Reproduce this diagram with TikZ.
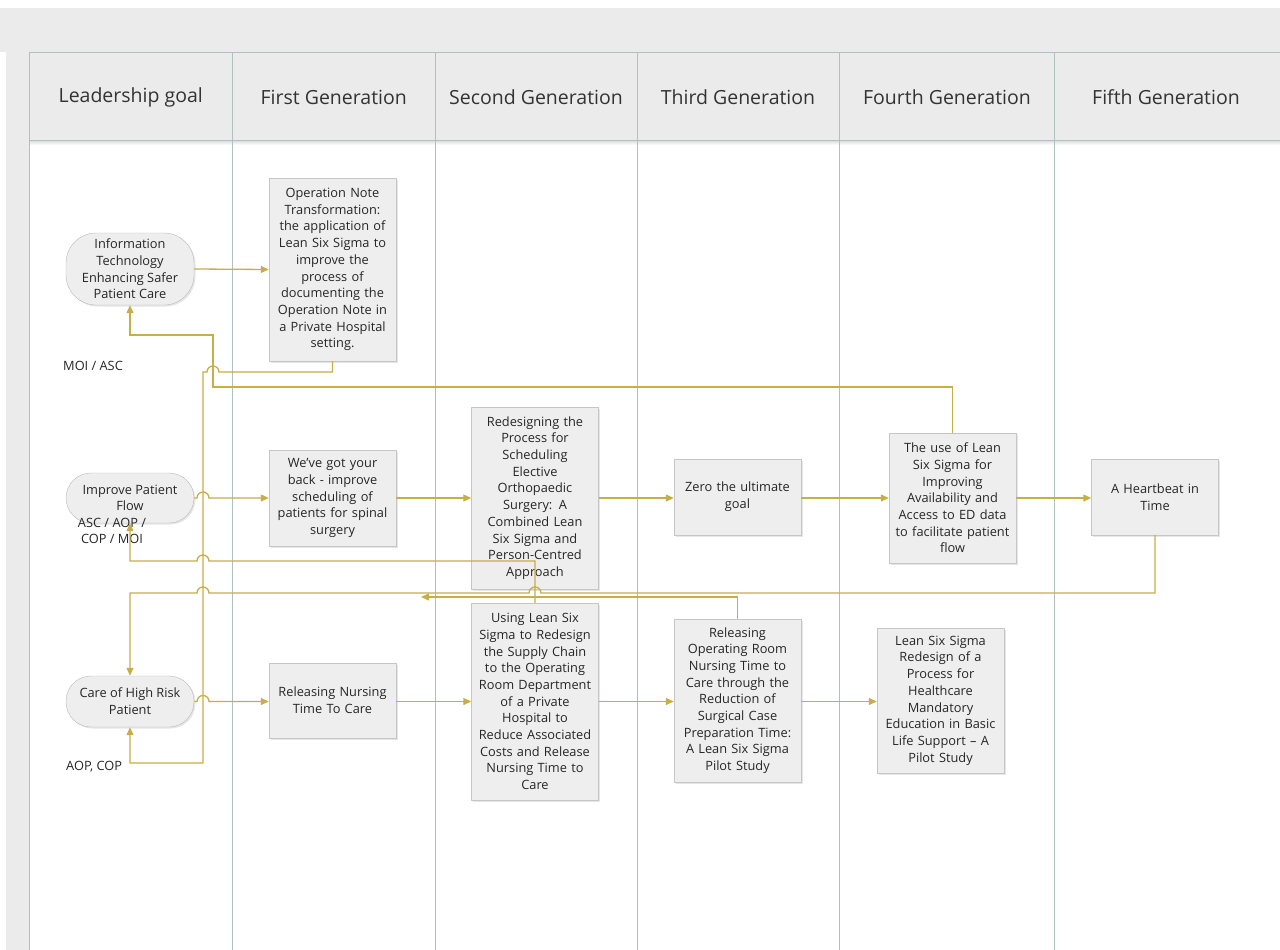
\documentclass[tikz,border=0pt]{standalone}
\usepackage{fontspec}
\setmainfont{Open Sans}
\setsansfont{Open Sans}
\usetikzlibrary{arrows.meta, positioning, shadows}

\definecolor{flowgold}{HTML}{C8AE46}
\definecolor{laneline}{HTML}{AFC0BE}
\definecolor{bandgray}{HTML}{EBEBEB}
\definecolor{cardfill}{HTML}{EEEEEE}
\definecolor{cardline}{HTML}{C6C6C6}

\begin{document}
\begin{tikzpicture}[
    x=1pt, y=1pt,
    every node/.append style = {font=\sffamily},
    head/.style = {font=\sffamily\fontsize{19.5}{23}\selectfont, text=black!80},
    goal/.style = {draw=gray!55, fill=cardfill, rounded corners=25pt,
      minimum width=128pt, align=center, inner sep=1pt,
      font=\sffamily\fontsize{12.8}{16.7}\selectfont, text=black!85,
      drop shadow={shadow xshift=1.5pt, shadow yshift=-1.5pt, opacity=0.2}},
    card/.style = {draw=cardline, fill=cardfill, minimum width=127pt,
      text width=125pt, align=center, inner sep=1pt,
      font=\sffamily\fontsize{12.8}{16.7}\selectfont, text=black!85,
      drop shadow={shadow xshift=1.5pt, shadow yshift=-1.5pt, opacity=0.2}},
    tag/.style = {font=\sffamily\fontsize{12.8}{16.7}\selectfont,
      text=black!85, inner sep=0pt},
    goldarrow/.style = {draw=flowgold, line width=1.3pt,
      -{Triangle[length=8pt, width=7pt]}},
    lane/.style = {draw=laneline, line width=0.8pt}
  ]
 \useasboundingbox (0,0) rectangle (1280,-950);

 % swimlane frame
 \fill[bandgray] (0,-8) rectangle (1280,-52);
 \fill[bandgray] (29,-52) rectangle (1280,-140);
 \fill[bandgray] (6,-52) rectangle (29,-950);
 \shade[top color=gray!30, bottom color=white] (29,-140) rectangle (1280,-145);
 \draw[lane] (29,-52) -- (1280,-52);
 \draw[lane] (29,-140) -- (1280,-140);
 \foreach \x in {29,232.5,435,637,839.5,1054.5} {
   \draw[lane] (\x,-52) -- (\x,-950);
 }
 \foreach \x/\t [count=\i] in {130.75/Leadership goal, 333.75/First Generation,
     536/Second Generation, 738/Third Generation, 947/Fourth Generation,
     1166/Fifth Generation} {
   \node[head] (hd\i) at (\x,-97) {\t};
 }

 % leadership goals
 \node[goal, rounded corners=30pt, minimum height=72pt] (itech) at (130,-269)
   {Information\\Technology\\Enhancing Safer\\Patient Care};
 \node[goal, minimum height=50pt] (pflow) at (130,-498)
   {Improve Patient\\Flow};
 \node[goal, minimum height=51pt] (risk) at (130,-701.5)
   {Care of High Risk\\Patient};

 \node[tag, anchor=west] (moi) at (63,-366) {MOI / ASC};
 \node[tag, align=center] (ascaop) at (112,-531) {ASC / AOP /\\COP / MOI};
 \node[tag, anchor=west] (aopcop) at (66,-767) {AOP, COP};

 % projects
 \node[card, minimum height=183pt] (opnote) at (332.5,-269.5)
   {Operation Note\\Transformation:\\the application of\\Lean Six Sigma to\\improve the\\process of\\documenting the\\Operation Note in\\a Private Hospital\\setting.};
 \node[card, minimum height=96pt] (back) at (332.5,-498)
   {We've got your\\back - improve\\scheduling of\\patients for spinal\\surgery};
 \node[card, minimum height=182pt] (redesign) at (535,-498)
   {Redesigning the\\Process for\\Scheduling\\Elective\\Orthopaedic\\Surgery: A\\Combined Lean\\Six Sigma and\\Person-Centred\\Approach};
 \node[card, minimum height=76pt] (zero) at (737.5,-497)
   {Zero the ultimate\\goal};
 \node[card, minimum height=130pt] (edata) at (952.5,-498)
   {The use of Lean\\Six Sigma for\\Improving\\Availability and\\Access to ED data\\to facilitate patient\\flow};
 \node[card, minimum height=76pt] (heart) at (1155,-497)
   {A Heartbeat in\\Time};
 \node[card, minimum height=75pt] (nursing) at (332.5,-700.5)
   {Releasing Nursing\\Time To Care};
 \node[card, minimum height=197pt] (supply) at (535,-701.5)
   {Using Lean Six\\Sigma to Redesign\\the Supply Chain\\to the Operating\\Room Department\\of a Private\\Hospital to\\Reduce Associated\\Costs and Release\\Nursing Time to\\Care};
 \node[card, minimum height=163pt] (orroom) at (737.5,-700.5)
   {Releasing\\Operating Room\\Nursing Time to\\Care through the\\Reduction of\\Surgical Case\\Preparation Time:\\A Lean Six Sigma\\Pilot Study};
 \node[card, minimum height=145pt] (bls) at (940.5,-700.5)
   {Lean Six Sigma\\Redesign of a\\Process for\\Healthcare\\Mandatory\\Education in Basic\\Life Support – A\\Pilot Study};

 \coordinate (stub) at (421,-597);

 % connectors
 \draw[goldarrow] (itech.east) -- (opnote.west);
 \draw[goldarrow] (opnote.south) |- (219,-372)
   arc[start angle=0, end angle=180, radius=6] -- (203,-372)
   |- (130,-763) -- (risk.south);
 \draw[goldarrow] (edata.north) |- (213,-387) |- (130,-335) -- (itech.south);

 \draw[goldarrow] (pflow.east) -- (197,-498)
   arc[start angle=180, end angle=0, radius=6] -- (back.west);
 \draw[goldarrow] (back.east) -- (redesign.west);
 \draw[goldarrow] (redesign.east) -- (zero.west |- redesign.east);
 \draw[goldarrow] (zero.east |- redesign.east) -- (edata.west);
 \draw[goldarrow] (edata.east) -- (heart.west |- edata.east);

 \draw[goldarrow] (supply.north) |- (209,-561)
   arc[start angle=0, end angle=180, radius=6] -| (pflow.south);
 \draw[goldarrow] (heart.south) |- (541,-593)
   arc[start angle=0, end angle=180, radius=6] -- (209,-593)
   arc[start angle=0, end angle=180, radius=6] -| (risk.north);
 \draw[goldarrow] (orroom.north) |- (stub);

 \draw[goldarrow] (risk.east) -- (197,-701.5)
   arc[start angle=180, end angle=0, radius=6] -- (nursing.west |- risk.east);
 \draw[goldarrow] (nursing.east |- risk.east) -- (supply.west |- risk.east);
 \draw[goldarrow] (supply.east |- risk.east) -- (orroom.west |- risk.east);
 \draw[goldarrow] (orroom.east |- risk.east) -- (bls.west |- risk.east);
\end{tikzpicture}
\end{document}
